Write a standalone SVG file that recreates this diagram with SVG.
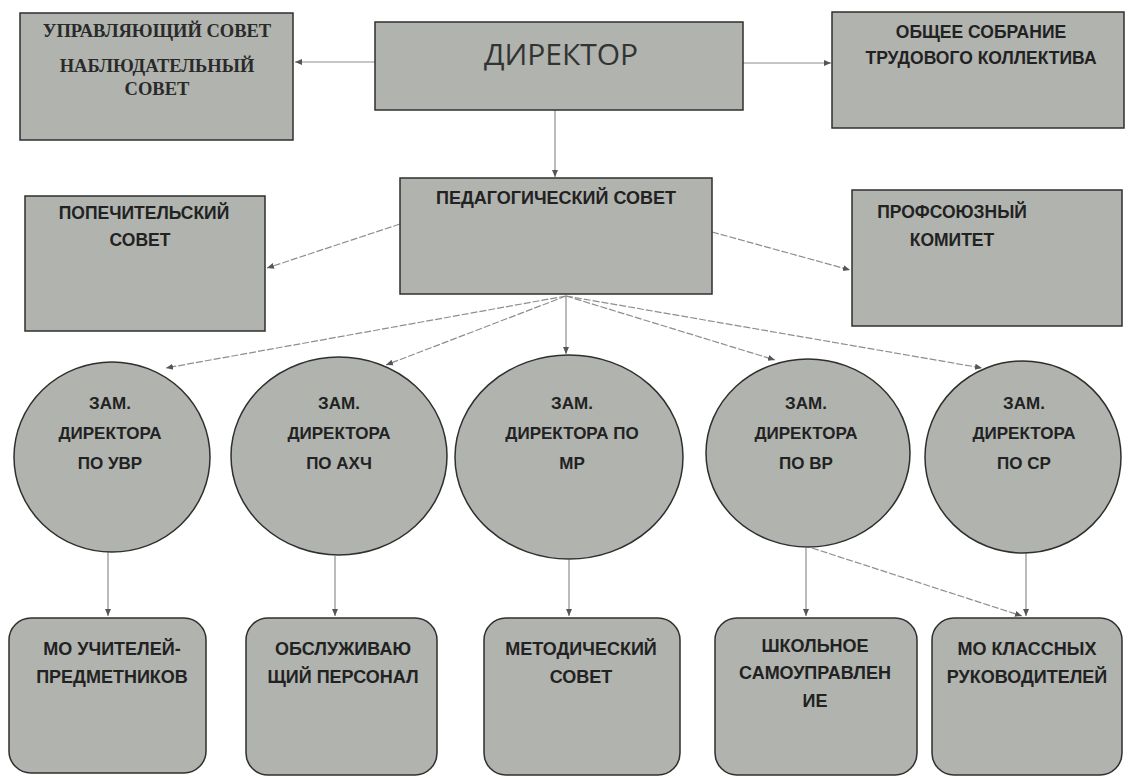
<svg xmlns="http://www.w3.org/2000/svg" width="1126" height="779" viewBox="0 0 1126 779">
<defs>
<style>
.node{fill:#b0b3ae;stroke:#2f2f2f;stroke-width:1.5}
.t{font-family:"Liberation Sans","DejaVu Sans",sans-serif;font-weight:bold;fill:#222;text-anchor:middle}
.s{font-family:"Liberation Serif","DejaVu Serif",serif;font-weight:bold;fill:#2a2a2a;text-anchor:middle;font-size:18.5px}
.c{stroke:#8e8e8e;stroke-width:1.2;fill:none;marker-end:url(#ah)}
.d{stroke-dasharray:7 2}
</style>
<marker id="ah" markerWidth="8" markerHeight="8" refX="7" refY="4" orient="auto" markerUnits="userSpaceOnUse">
<path d="M0,1 L7,4 L0,7 Z" fill="#555"/>
</marker>
</defs>
<rect width="1126" height="779" fill="#ffffff"/>

<g id="connectors">
<line class="c" x1="375" y1="62" x2="295" y2="62"/>
<line class="c" x1="743" y1="63" x2="831" y2="63"/>
<line class="c" x1="555" y1="110" x2="555" y2="177"/>
<line class="c d" x1="400" y1="224" x2="267" y2="268"/>
<line class="c d" x1="712" y1="232" x2="850" y2="270"/>
<line class="c d" x1="566" y1="296" x2="166" y2="368"/>
<line class="c d" x1="566" y1="296" x2="386" y2="365"/>
<line class="c" x1="566" y1="296" x2="566" y2="354"/>
<line class="c d" x1="566" y1="296" x2="775" y2="360"/>
<line class="c d" x1="566" y1="296" x2="982" y2="368"/>
<line class="c" x1="108" y1="552" x2="108" y2="616"/>
<line class="c" x1="335" y1="556" x2="335" y2="616"/>
<line class="c" x1="569" y1="560" x2="569" y2="616"/>
<line class="c" x1="806" y1="548" x2="806" y2="616"/>
<line class="c d" x1="812" y1="548" x2="1022" y2="616"/>
<line class="c" x1="1026" y1="553" x2="1026" y2="616"/>
</g>

<g id="upravl">
<rect class="node" x="20" y="13" width="273" height="127"/>
<text class="s" x="157" y="37">УПРАВЛЯЮЩИЙ СОВЕТ</text>
<text class="s" x="157" y="72">НАБЛЮДАТЕЛЬНЫЙ</text>
<text class="s" x="157" y="95">СОВЕТ</text>
</g>

<g id="director">
<rect class="node" x="375" y="22" width="368" height="88"/>
<text x="561" y="65" font-family="'Open Sans','Liberation Sans',sans-serif" font-size="30" fill="#333" text-anchor="middle">ДИРЕКТОР</text>
</g>

<g id="sobranie">
<rect class="node" x="832" y="12" width="292" height="116"/>
<text class="t" x="981" y="38" font-size="17.5">ОБЩЕЕ СОБРАНИЕ</text>
<text class="t" x="981" y="64" font-size="17.5">ТРУДОВОГО КОЛЛЕКТИВА</text>
</g>

<g id="pedsovet">
<rect class="node" x="400" y="178" width="312" height="116"/>
<text class="t" x="556" y="204" font-size="18">ПЕДАГОГИЧЕСКИЙ СОВЕТ</text>
</g>

<g id="popech">
<rect class="node" x="25" y="196" width="240" height="135"/>
<text class="t" x="144" y="219" font-size="17.5">ПОПЕЧИТЕЛЬСКИЙ</text>
<text class="t" x="140" y="246" font-size="17.5">СОВЕТ</text>
</g>

<g id="profsoyuz">
<rect class="node" x="852" y="190" width="270" height="136"/>
<text class="t" x="952" y="218" font-size="17.5">ПРОФСОЮЗНЫЙ</text>
<text class="t" x="952" y="246" font-size="17.5">КОМИТЕТ</text>
</g>

<g id="zam-uvr">
<ellipse class="node" cx="112" cy="457" rx="98" ry="95"/>
<text class="t" x="110" y="409" font-size="17">ЗАМ.</text>
<text class="t" x="110" y="439" font-size="17">ДИРЕКТОРА</text>
<text class="t" x="110" y="469" font-size="17">ПО УВР</text>
</g>

<g id="zam-ahch">
<ellipse class="node" cx="339" cy="456" rx="108" ry="99"/>
<text class="t" x="339" y="409" font-size="17">ЗАМ.</text>
<text class="t" x="339" y="439" font-size="17">ДИРЕКТОРА</text>
<text class="t" x="339" y="469" font-size="17">ПО АХЧ</text>
</g>

<g id="zam-mr">
<ellipse class="node" cx="569" cy="457" rx="114" ry="102"/>
<text class="t" x="572" y="409" font-size="17">ЗАМ.</text>
<text class="t" x="572" y="439" font-size="17">ДИРЕКТОРА ПО</text>
<text class="t" x="572" y="469" font-size="17">МР</text>
</g>

<g id="zam-vr">
<ellipse class="node" cx="808" cy="453" rx="102" ry="94"/>
<text class="t" x="806" y="409" font-size="17">ЗАМ.</text>
<text class="t" x="806" y="439" font-size="17">ДИРЕКТОРА</text>
<text class="t" x="806" y="469" font-size="17">ПО ВР</text>
</g>

<g id="zam-sr">
<ellipse class="node" cx="1023" cy="457" rx="98" ry="96"/>
<text class="t" x="1024" y="409" font-size="17">ЗАМ.</text>
<text class="t" x="1024" y="439" font-size="17">ДИРЕКТОРА</text>
<text class="t" x="1024" y="469" font-size="17">ПО СР</text>
</g>

<g id="mo-uchit">
<rect class="node" x="9" y="618" width="197" height="155" rx="22"/>
<text class="t" x="112" y="655" font-size="18">МО УЧИТЕЛЕЙ-</text>
<text class="t" x="112" y="683" font-size="18">ПРЕДМЕТНИКОВ</text>
</g>

<g id="obsluzh">
<rect class="node" x="246" y="618" width="191" height="157" rx="22"/>
<text class="t" x="343" y="655" font-size="18">ОБСЛУЖИВАЮ</text>
<text class="t" x="343" y="683" font-size="18">ЩИЙ ПЕРСОНАЛ</text>
</g>

<g id="metod">
<rect class="node" x="484" y="618" width="196" height="157" rx="22"/>
<text class="t" x="581" y="655" font-size="18">МЕТОДИЧЕСКИЙ</text>
<text class="t" x="581" y="683" font-size="18">СОВЕТ</text>
</g>

<g id="shkol">
<rect class="node" x="715" y="618" width="202" height="157" rx="22"/>
<text class="t" x="815" y="652" font-size="18">ШКОЛЬНОЕ</text>
<text class="t" x="815" y="679" font-size="18">САМОУПРАВЛЕН</text>
<text class="t" x="815" y="707" font-size="18">ИЕ</text>
</g>

<g id="mo-klass">
<rect class="node" x="932" y="618" width="190" height="157" rx="22"/>
<text class="t" x="1027" y="655" font-size="18">МО КЛАССНЫХ</text>
<text class="t" x="1027" y="683" font-size="18">РУКОВОДИТЕЛЕЙ</text>
</g>
</svg>
